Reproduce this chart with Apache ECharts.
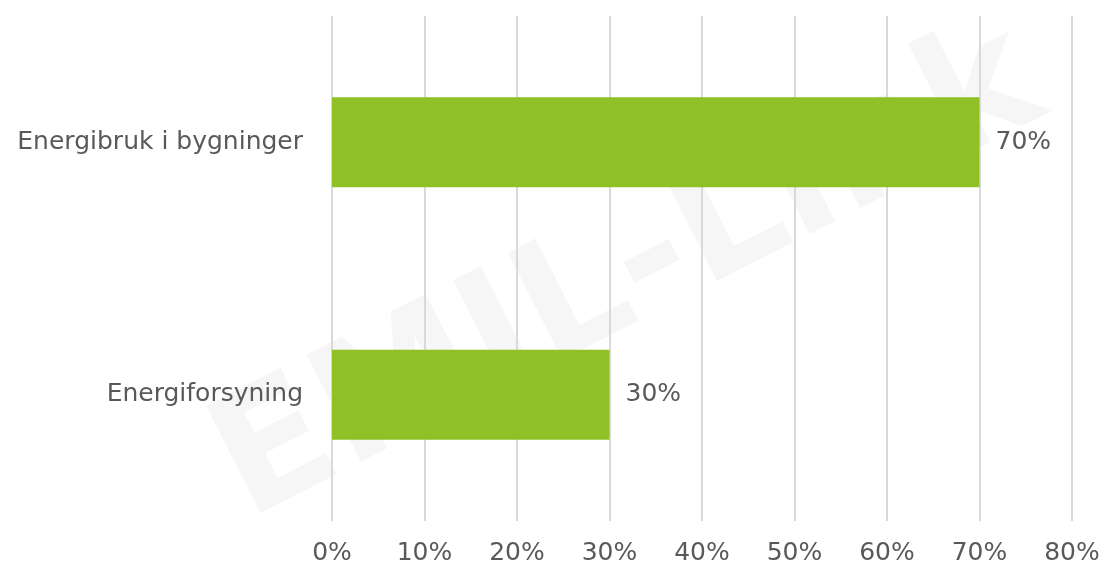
<!DOCTYPE html>
<html>
<head>
<meta charset="utf-8" />
<title>Energi</title>
<script src="https://cdn.jsdelivr.net/npm/echarts@6/dist/echarts.min.js"></script>
</head>
<body style="margin:0">
<div id="main" style="width:1100px;height:569px;"></div>
<script type="text/javascript">
var categories = ['Energiforsyning', 'Energibruk i bygninger'];
var values = [30, 70];
var xTicks = [0, 10, 20, 30, 40, 50, 60, 70, 80];

var myChart = echarts.init(document.getElementById('main'));
var textColor = '#595959';
var fontFamily = 'DejaVu Sans';
var fontSize = 25;

var option = {
  backgroundColor: '#fff',
  // faint watermark like in the picture
  graphic: [{
    type: 'text',
    x: 265,
    y: 555,
    rotation: 0.47,
    silent: true,
    z: -10,
    zlevel: 0,
    style: {
      text: 'EMIL-Link',
      fontSize: 165,
      fontWeight: 'bold',
      fontFamily: 'DejaVu Sans',
      verticalAlign: 'bottom',
      fill: 'rgba(0,0,0,0.035)'
    }
  }],
  grid: { left: 332, right: 28, top: 16, bottom: 48, outerBoundsMode: 'none' },
  xAxis: {
    type: 'value',
    min: xTicks[0],
    max: xTicks[xTicks.length - 1],
    interval: 10,
    axisLine: { show: false },
    axisTick: { show: false },
    splitLine: { lineStyle: { color: '#d9d9d9', width: 2 } },
    axisLabel: {
      formatter: '{value}%',
      color: textColor,
      fontSize: fontSize,
      fontFamily: fontFamily,
      margin: 20
    }
  },
  yAxis: {
    type: 'category',
    data: categories,
    axisLine: { show: false },
    axisTick: { show: false },
    axisLabel: {
      color: textColor,
      fontSize: fontSize,
      fontFamily: fontFamily,
      margin: 29
    }
  },
  series: [{
    type: 'bar',
    data: values,
    barWidth: 90,
    itemStyle: { color: '#8fc126' },
    label: {
      show: true,
      position: 'right',
      distance: 16,
      formatter: '{c}%',
      color: textColor,
      fontSize: fontSize,
      fontFamily: fontFamily
    }
  }]
};

myChart.setOption(option);
</script>
</body>
</html>
